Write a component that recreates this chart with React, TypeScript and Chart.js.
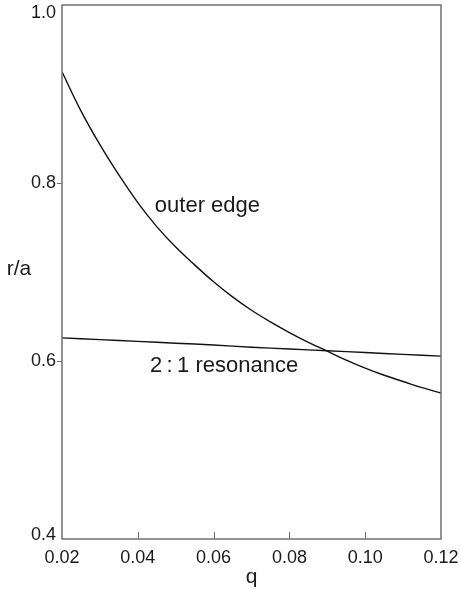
import React, { useEffect, useRef } from "react";
import { Chart, registerables } from "chart.js";

Chart.register(...registerables);

const qOuter = [0.02, 0.025, 0.03, 0.035, 0.04, 0.045, 0.05, 0.055, 0.06, 0.065, 0.07, 0.075, 0.08, 0.085, 0.09, 0.095, 0.1, 0.105, 0.11, 0.115, 0.12];
const rOuter = [0.925, 0.881, 0.843, 0.809, 0.778, 0.751, 0.728, 0.708, 0.689, 0.672, 0.657, 0.644, 0.632, 0.621, 0.611, 0.601, 0.592, 0.584, 0.577, 0.570, 0.564];
const qRes = [0.02, 0.03, 0.04, 0.05, 0.06, 0.07, 0.08, 0.09, 0.1, 0.11, 0.12];
const rRes = [0.626, 0.624, 0.622, 0.62, 0.618, 0.6155, 0.6135, 0.6115, 0.6095, 0.6075, 0.6055];
const xTicks = [0.02, 0.04, 0.06, 0.08, 0.1, 0.12];
const yTicks = [0.4, 0.6, 0.8, 1.0];
const labels = [
  { text: "outer edge", q: 0.0445, r: 0.767 },
  { text: "2\u2009:\u20091 resonance", q: 0.0432, r: 0.5876 },
];
const xTitle = "q";
const yTitle = "r/a";

const FONT = "'Liberation Sans', Arial, Helvetica, sans-serif";
const AXIS_COLOR = "#707070";
const TEXT_COLOR = "#1a1a1a";

export default function App() {
  const ref = useRef<HTMLCanvasElement | null>(null);

  useEffect(() => {
    if (!ref.current) return;
    const decor = {
      id: "decor",
      afterDraw(chart: any) {
        const { ctx, chartArea: a, scales } = chart;
        const xs = scales.x;
        const ys = scales.y;
        ctx.save();
        ctx.strokeStyle = AXIS_COLOR;
        ctx.lineWidth = 1.5;
        ctx.strokeRect(a.left, a.top, a.right - a.left, a.bottom - a.top);
        ctx.beginPath();
        xTicks.slice(1, -1).forEach((v) => {
          const px = Math.round(xs.getPixelForValue(v)) + 0.5;
          ctx.moveTo(px, a.bottom);
          ctx.lineTo(px, a.bottom - 7);
        });
        yTicks.slice(1, -1).forEach((v) => {
          const py = Math.round(ys.getPixelForValue(v)) + 0.5;
          ctx.moveTo(a.left, py);
          ctx.lineTo(a.left - 5, py);
        });
        ctx.lineWidth = 1;
        ctx.stroke();
        ctx.fillStyle = TEXT_COLOR;
        // y tick labels, kept inside the frame height at the ends
        ctx.font = `18px ${FONT}`;
        ctx.textAlign = "right";
        ctx.textBaseline = "middle";
        yTicks.forEach((v) => {
          const py = Math.min(Math.max(ys.getPixelForValue(v), a.top + 8), a.bottom - 4);
          ctx.fillText(v.toFixed(1), a.left - 6, py);
        });
        ctx.font = `22px ${FONT}`;
        ctx.textAlign = "left";
        ctx.textBaseline = "alphabetic";
        labels.forEach((l) => {
          ctx.fillText(l.text, xs.getPixelForValue(l.q), ys.getPixelForValue(l.r));
        });
        ctx.font = `21px ${FONT}`;
        ctx.textAlign = "center";
        ctx.fillText(xTitle, (a.left + a.right) / 2, 583);
        ctx.textBaseline = "middle";
        ctx.fillText(yTitle, 19, (a.top + a.bottom) / 2 - 3);
        ctx.restore();
      },
    };

    const chart = new Chart(ref.current, {
      type: "scatter",
      data: {
        datasets: [
          {
            data: qOuter.map((q, i) => ({ x: q, y: rOuter[i] })),
            showLine: true,
            borderColor: "#111",
            borderWidth: 1.4,
            pointRadius: 0,
            tension: 0.4,
          },
          {
            data: qRes.map((q, i) => ({ x: q, y: rRes[i] })),
            showLine: true,
            borderColor: "#111",
            borderWidth: 1.4,
            pointRadius: 0,
            tension: 0.4,
          },
        ],
      },
      options: {
        responsive: false,
        animation: false,
        layout: { padding: { left: 0, top: 5, right: 20, bottom: 0 } },
        plugins: { legend: { display: false }, tooltip: { enabled: false } },
        scales: {
          x: {
            type: "linear",
            min: 0.02,
            max: 0.12,
            afterFit: (s: any) => {
              s.height = 51;
              s.paddingLeft = 0;
              s.paddingRight = 0;
            },
            afterBuildTicks: (s: any) => {
              s.ticks = xTicks.map((v) => ({ value: v }));
            },
            grid: { display: false, drawTicks: false },
            border: { display: false },
            ticks: {
              padding: 8,
              color: TEXT_COLOR,
              font: { family: FONT, size: 18 },
              maxRotation: 0,
              callback: (v: any) => Number(v).toFixed(2),
            },
          },
          y: {
            type: "linear",
            min: 0.4,
            max: 1.0,
            afterFit: (s: any) => {
              s.width = 62;
              s.paddingTop = 0;
              s.paddingBottom = 0;
            },
            afterBuildTicks: (s: any) => {
              s.ticks = yTicks.map((v) => ({ value: v }));
            },
            grid: { display: false, drawTicks: false },
            border: { display: false },
            ticks: { display: false },
          },
        },
      },
      plugins: [decor],
    } as any);
    return () => chart.destroy();
  }, []);

  return (
    <div style={{ position: "absolute", left: 0, top: 0, width: 461, height: 590, background: "#fff" }}>
      <canvas ref={ref} width={461} height={590} style={{ display: "block" }} />
    </div>
  );
}
